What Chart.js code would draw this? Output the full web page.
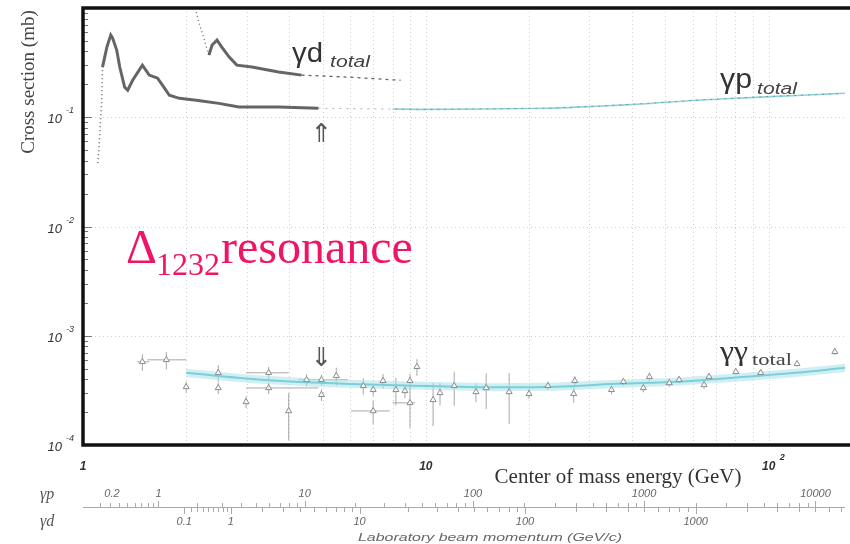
<!DOCTYPE html>
<html lang="en">
<head>
<meta charset="UTF-8">
<title>Total photon cross sections</title>
<script src="https://cdn.jsdelivr.net/npm/chart.js"></script>
<style>
  html, body { margin: 0; padding: 0; background: #fff; }
</style>
</head>
<body>
<canvas id="xsChart" width="850" height="544"></canvas>
<script>
// gamma-p total cross section (mb) vs centre-of-mass energy W (GeV), resonance region
const gpW   = [1.105, 1.12, 1.134, 1.14, 1.174, 1.205, 1.22, 1.254, 1.28, 1.323, 1.35, 1.396, 1.49, 1.56, 1.65, 1.705, 1.786, 1.91, 2.14, 2.49, 2.85, 3.72, 4.86];
const gpSig = [0.038, 0.071, 0.143, 0.288, 0.439, 0.565, 0.53, 0.412, 0.288, 0.188, 0.177, 0.218, 0.30, 0.243, 0.228, 0.197, 0.159, 0.149, 0.143, 0.134, 0.124, 0.124, 0.121];

// gamma-p, sparse high energy measurements
const gpHighW   = [4.86, 6.0, 7.5, 10, 13, 17, 22.5, 31.4, 43.9, 61.5, 91.6, 130, 160];
const gpHighSig = [0.121, 0.120, 0.119, 0.118, 0.119, 0.120, 0.121, 0.126, 0.134, 0.143, 0.153, 0.160, 0.165];

// gamma-p fit
const gpFitW   = [8, 10, 22.5, 31.4, 43.9, 61.5, 91.6, 130, 167];
const gpFitSig = [0.119, 0.118, 0.121, 0.126, 0.133, 0.143, 0.152, 0.160, 0.166];

// gamma-d total cross section (mb)
const gdW   = [2.14, 2.18, 2.23, 2.29, 2.33, 2.38, 2.46, 2.54, 2.67, 2.81, 3.11, 3.72, 4.34, 5.94, 8.44];
const gdSig = [0.918, 0.728, 0.59, 0.439, 0.371, 0.458, 0.508, 0.439, 0.355, 0.30, 0.288, 0.259, 0.243, 0.233, 0.218];

// gamma-gamma total cross section (mb) with errors
const ggW   = [1.49, 1.75, 2.00, 2.48, 2.48, 2.99, 3.48, 3.48, 3.98, 4.49, 4.96, 4.96, 5.48, 6.57, 7.02, 7.02, 7.50, 8.18, 8.69, 8.99, 8.99, 9.42, 10.5, 11.0, 12.1, 14.0, 15.0, 17.5, 20.0, 22.7, 27.2, 27.0, 34.8, 37.7, 43.1, 44.9, 51.3, 54.8, 64.8, 67.0, 80.2, 94.8, 121, 156];
const ggSig = [5.77e-4, 6.02e-4, 3.40e-4, 4.58e-4, 3.33e-4, 2.48e-4, 4.58e-4, 3.33e-4, 2.05e-4, 3.95e-4, 3.95e-4, 2.88e-4, 4.30e-4, 3.48e-4, 3.20e-4, 2.05e-4, 3.87e-4, 3.20e-4, 3.13e-4, 3.87e-4, 2.43e-4, 5.20e-4, 2.59e-4, 3.00e-4, 3.48e-4, 3.06e-4, 3.33e-4, 3.06e-4, 2.94e-4, 3.48e-4, 3.87e-4, 2.94e-4, 3.20e-4, 3.79e-4, 3.33e-4, 4.21e-4, 3.70e-4, 3.95e-4, 3.55e-4, 4.21e-4, 4.68e-4, 4.58e-4, 5.53e-4, 7.13e-4];
const ggErr = [1.0e-4, 1.1e-4, 0.4e-4, 0.8e-4, 0.4e-4, 0.3e-4, 0.6e-4, 0.4e-4, 0.95e-4, 0.5e-4, 0.45e-4, 0.35e-4, 0.8e-4, 0.6e-4, 0.4e-4, 0.5e-4, 0.6e-4, 0.9e-4, 0.45e-4, 0.6e-4, 1.0e-4, 0.9e-4, 1.1e-4, 0.7e-4, 1.2e-4, 0.6e-4, 1.2e-4, 1.5e-4, 0.3e-4, 0.3e-4, 0.4e-4, 0.5e-4, 0.3e-4, 0.3e-4, 0.3e-4, 0.4e-4, 0.3e-4, 0.3e-4, 0.3e-4, 0.3e-4, 0.3e-4, 0.25e-4, 0.3e-4, 0.5e-4];
// energy bin edges for the points that have them (0 = no horizontal bar)
const ggWLo = [1.44, 1.54, 0, 0, 0, 0, 2.99, 2.99, 0, 0, 4.25, 0, 0, 0, 0, 6.05, 0, 0, 0, 0, 8.0, 0, 0, 0, 0, 0, 0, 0, 0, 0, 0, 0, 0, 0, 0, 0, 0, 0, 0, 0, 0, 0, 0, 0];
const ggWHi = [1.56, 2.00, 0, 0, 0, 0, 3.98, 4.86, 0, 0, 5.93, 0, 0, 0, 0, 7.85, 0, 0, 0, 0, 9.3, 0, 0, 0, 0, 0, 0, 0, 0, 0, 0, 0, 0, 0, 0, 0, 0, 0, 0, 0, 0, 0, 0, 0];

// gamma-gamma fit band
const bandW   = [2.0, 3.04, 4.86, 8.28, 16.1, 24.0, 35.9, 53.8, 85.6, 120, 167];
const bandMid = [4.58e-4, 4.04e-4, 3.71e-4, 3.52e-4, 3.38e-4, 3.42e-4, 3.63e-4, 3.79e-4, 4.21e-4, 4.58e-4, 5.09e-4];
const bandLo  = [4.20e-4, 3.70e-4, 3.40e-4, 3.23e-4, 3.10e-4, 3.14e-4, 3.33e-4, 3.48e-4, 3.86e-4, 4.20e-4, 4.67e-4];
const bandHi  = [5.00e-4, 4.40e-4, 4.05e-4, 3.84e-4, 3.68e-4, 3.73e-4, 3.96e-4, 4.13e-4, 4.59e-4, 5.00e-4, 5.55e-4];

// tick labels
const yDecades = [-4, -3, -2, -1];
const xLabels = [{ v: 1, base: '1', exp: '' }, { v: 10, base: '10', exp: '' }, { v: 100, base: '10', exp: '2' }];
const gpLab = [0.2, 1, 10, 100, 1000, 10000];
const gdLab = [0.1, 1, 10, 100, 1000];

const M_P = 0.938, M_D = 1.876;
function wFromLab(m, e) { return Math.sqrt(m * m + 2 * m * e); }

function pts(xs, ys) { return xs.map((v, i) => ({ x: v, y: ys[i] })); }

function text(ctx, s, x, y, font, color, align) {
  ctx.font = font;
  ctx.fillStyle = color;
  ctx.textAlign = align || 'left';
  ctx.textBaseline = 'alphabetic';
  ctx.fillText(s, x, y);
}

// squeeze or stretch a string to a given width
function fitText(ctx, s, x, y, w, font, color) {
  ctx.save();
  ctx.font = font;
  const m = ctx.measureText(s).width;
  ctx.translate(x, y);
  ctx.scale(w / m, 1);
  ctx.fillStyle = color;
  ctx.textAlign = 'left';
  ctx.textBaseline = 'alphabetic';
  ctx.fillText(s, 0, 0);
  ctx.restore();
}

const decorations = {
  id: 'decorations',
  beforeDatasetsDraw(chart) {
    const { ctx, chartArea: a, scales: { x, y } } = chart;
    ctx.save();
    // dotted grid
    ctx.strokeStyle = '#cfcfcf';
    ctx.lineWidth = 1;
    ctx.setLineDash([1, 3]);
    for (let d = 1; d <= 100; d *= 10) {
      for (let k = 1; k <= 9; k++) {
        const v = d * k;
        if (v <= 1 || v > x.max) continue;
        const px = Math.round(x.getPixelForValue(v)) + 0.5;
        ctx.beginPath(); ctx.moveTo(px, a.top); ctx.lineTo(px, a.bottom); ctx.stroke();
      }
    }
    for (const e of [-3, -2, -1]) {
      const py = Math.round(y.getPixelForValue(Math.pow(10, e))) + 0.5;
      ctx.beginPath(); ctx.moveTo(a.left, py); ctx.lineTo(a.right, py); ctx.stroke();
    }
    ctx.setLineDash([]);

    // gamma-gamma error bars
    ctx.strokeStyle = '#a8a8a8';
    ctx.lineWidth = 1;
    ggW.forEach((w, i) => {
      const px = x.getPixelForValue(w);
      const py = y.getPixelForValue(ggSig[i]);
      ctx.beginPath();
      ctx.moveTo(px, y.getPixelForValue(ggSig[i] + ggErr[i]));
      ctx.lineTo(px, y.getPixelForValue(Math.max(ggSig[i] - ggErr[i], 1.01e-4)));
      if (ggWLo[i] > 0) {
        ctx.moveTo(x.getPixelForValue(ggWLo[i]), py);
        ctx.lineTo(x.getPixelForValue(ggWHi[i]), py);
      }
      ctx.stroke();
    });
    ctx.restore();
  },
  afterDraw(chart) {
    const { ctx, chartArea: a, scales: { x, y } } = chart;
    ctx.save();

    // minor ticks along the left frame
    ctx.strokeStyle = '#777';
    ctx.lineWidth = 1;
    for (let e = -4; e < 0; e++) {
      for (let k = 1; k <= 9; k++) {
        const py = Math.round(y.getPixelForValue(k * Math.pow(10, e))) + 0.5;
        const len = k === 1 ? 9 : 5;
        ctx.beginPath(); ctx.moveTo(a.left, py); ctx.lineTo(a.left + len, py); ctx.stroke();
      }
    }

    // heavy frame
    ctx.strokeStyle = '#111';
    ctx.lineWidth = 3.5;
    ctx.beginPath();
    ctx.moveTo(a.right + 5, a.top);
    ctx.lineTo(a.left, a.top);
    ctx.lineTo(a.left, a.bottom);
    ctx.lineTo(a.right + 5, a.bottom);
    ctx.stroke();

    // y tick labels
    yDecades.forEach(e => {
      const py = y.getPixelForValue(Math.pow(10, e));
      text(ctx, '10', 62, py + 6, 'italic 13px "Liberation Sans"', '#333', 'right');
      text(ctx, String(e), 66, py - 4, 'italic 9px "Liberation Sans"', '#333', 'left');
    });

    // x tick labels
    xLabels.forEach(t => {
      const px = x.getPixelForValue(t.v);
      text(ctx, t.base, px, 470, 'italic bold 12px "Liberation Sans"', '#333', 'center');
      if (t.exp) text(ctx, t.exp, px + 11, 460, 'italic bold 9px "Liberation Sans"', '#333', 'left');
    });

    // axis titles
    text(ctx, 'Center of mass energy (GeV)', 618, 483, '21px "Liberation Serif"', '#333', 'center');
    ctx.save();
    ctx.translate(34, 82);
    ctx.rotate(-Math.PI / 2);
    text(ctx, 'Cross section (mb)', 0, 0, '19px "Liberation Serif"', '#444', 'center');
    ctx.restore();

    // laboratory momentum scales for gamma-p and gamma-d
    ctx.strokeStyle = '#aaa';
    ctx.lineWidth = 1;
    ctx.beginPath(); ctx.moveTo(a.left, 507.5); ctx.lineTo(a.right, 507.5); ctx.stroke();
    for (let d = 0.1; d <= 10000; d *= 10) {
      for (let k = 1; k <= 9; k++) {
        const e = d * k;
        const wp = wFromLab(M_P, e), wd = wFromLab(M_D, e);
        if (e >= 0.2 && wp <= x.max) {
          const px = Math.round(x.getPixelForValue(wp)) + 0.5;
          ctx.beginPath(); ctx.moveTo(px, 507.5); ctx.lineTo(px, k === 1 ? 501 : 503); ctx.stroke();
        }
        if (wd <= x.max) {
          const px = Math.round(x.getPixelForValue(wd)) + 0.5;
          ctx.beginPath(); ctx.moveTo(px, 507.5); ctx.lineTo(px, k === 1 ? 514 : 512); ctx.stroke();
        }
      }
    }
    gpLab.forEach(e => {
      const px = x.getPixelForValue(wFromLab(M_P, e));
      text(ctx, String(e), px + (e === 0.2 ? 12 : 0), 497, 'italic 11px "Liberation Sans"', '#666', 'center');
    });
    gdLab.forEach(e => {
      const px = x.getPixelForValue(wFromLab(M_D, e));
      text(ctx, String(e), px, 525, 'italic 11px "Liberation Sans"', '#666', 'center');
    });
    text(ctx, 'γp', 40, 499, 'italic 16px "Liberation Serif"', '#555', 'left');
    text(ctx, 'γd', 40, 526, 'italic 16px "Liberation Serif"', '#555', 'left');
    fitText(ctx, 'Laboratory beam momentum (GeV/c)', 358, 541, 264, 'italic 11px "Liberation Sans"', '#666');

    // curve labels
    fitText(ctx, 'γd', 292, 62, 31, '27px "Liberation Sans"', '#333');
    fitText(ctx, 'total', 330, 67, 40, 'italic 16px "Liberation Sans"', '#444');
    fitText(ctx, 'γp', 720, 88, 32, '28px "Liberation Sans"', '#333');
    fitText(ctx, 'total', 757, 94, 40, 'italic 16px "Liberation Sans"', '#444');
    fitText(ctx, 'γγ', 720, 360, 28, '28px "Liberation Serif"', '#333');
    fitText(ctx, 'total', 752, 365, 40, '17px "Liberation Serif"', '#444');

    // arrows at W = 5 GeV
    const ax = x.getPixelForValue(4.96);
    text(ctx, '⇑', ax, 142, '26px "DejaVu Sans"', '#555', 'center');
    text(ctx, '⇓', ax, 366, '26px "DejaVu Sans"', '#555', 'center');

    // resonance label
    const pink = '#ee1466';
    text(ctx, 'Δ', 126, 263, '48px "Liberation Serif"', pink, 'left');
    text(ctx, '1232', 156, 275, '32px "Liberation Serif"', pink, 'left');
    text(ctx, 'resonance', 221, 263, '48px "Liberation Serif"', pink, 'left');

    ctx.restore();
  }
};

// datasets listed first are painted on top
new Chart(document.getElementById('xsChart').getContext('2d'), {
  type: 'line',
  data: {
    datasets: [
      { data: pts(ggW, ggSig), showLine: false, pointStyle: 'triangle', pointRadius: 3.5,
        borderColor: '#8c8c8c', backgroundColor: 'rgba(255,255,255,0.85)', borderWidth: 1 },
      { data: pts(bandW, bandMid), borderWidth: 2, pointRadius: 0, borderColor: '#7ccfd8', tension: 0.4 },
      { data: pts(bandW, bandLo), borderWidth: 0, pointRadius: 0, fill: false, borderColor: 'rgba(0,0,0,0)' },
      { data: pts(bandW, bandHi), borderWidth: 0, pointRadius: 0, fill: '-1', borderColor: 'rgba(0,0,0,0)',
        backgroundColor: 'rgba(170,225,232,0.55)' },
      { data: pts(gpHighW, gpHighSig), borderWidth: 1, pointRadius: 0, borderColor: 'rgba(80,80,80,0.45)',
        borderDash: [2, 5] },
      { data: pts(gpFitW, gpFitSig), borderWidth: 1.6, pointRadius: 0, borderColor: '#8fd4da', tension: 0.3 },
      { data: pts(gpW, gpSig), borderWidth: 3, pointRadius: 0, borderColor: 'rgba(50,50,50,0.75)',
        segment: { borderDash: c => c.p0.parsed.x < 1.14 ? [1, 3] : undefined,
                   borderWidth: c => c.p0.parsed.x < 1.14 ? 1.5 : 3 } },
      { data: pts(gdW, gdSig), borderWidth: 3, pointRadius: 0, borderColor: 'rgba(50,50,50,0.75)',
        segment: { borderDash: c => (c.p0.parsed.x < 2.33 ? [1, 3] : (c.p0.parsed.x >= 4.34 ? [3, 4] : undefined)),
                   borderWidth: c => (c.p0.parsed.x < 2.33 || c.p0.parsed.x >= 4.34) ? 1.3 : 3 } }
    ]
  },
  options: {
    responsive: false,
    animation: false,
    layout: { padding: { left: 83, right: 0, top: 8, bottom: 99 } },
    plugins: { legend: { display: false }, tooltip: { enabled: false } },
    scales: {
      x: { type: 'logarithmic', display: false, min: 1, max: 167 },
      y: { type: 'logarithmic', display: false, min: 1e-4, max: 1 }
    }
  },
  plugins: [decorations]
});
</script>
</body>
</html>
